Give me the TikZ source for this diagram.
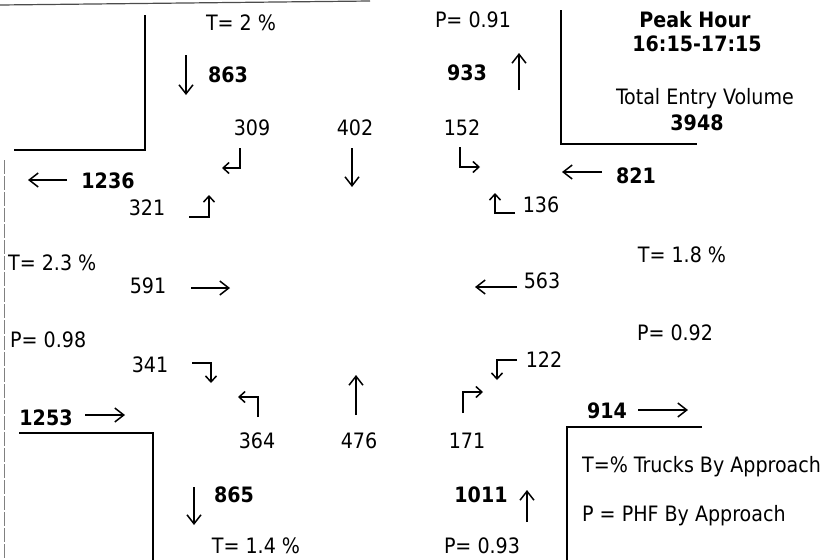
\documentclass[tikz,border=0pt]{standalone}
\usepackage{fontspec}
\IfFontExistsTF{DejaVu Sans Condensed}{\setmainfont{DejaVu Sans Condensed}}{\setmainfont{DejaVu Sans}}
\usetikzlibrary{arrows.meta}

\begin{document}
\begin{tikzpicture}[
  x=1pt, y=-1pt,
  font=\fontsize{21.2}{25}\selectfont,
  txt/.style={inner sep=0pt, anchor=base},
  lft/.style={inner sep=0pt, anchor=base west},
  tot/.style={inner sep=0pt, anchor=base, font=\fontsize{21.2}{25}\selectfont\bfseries},
  arr/.style={-{Straight Barb[length=9pt,width=14pt]}, line width=1.5pt},
  turn/.style={-{Straight Barb[length=6pt,width=11pt]}, line width=1.5pt},
  curb/.style={line width=2.2pt}
]
\useasboundingbox (0,0) rectangle (828,560);

% scan edges
\draw[line width=1.2pt, black!70] (0,5) -- (370,1);
\draw[line width=1pt, black!50, dash pattern=on 14pt off 2pt] (4,160) -- (4,560);

% curb corners
\draw[curb] (145,15) -- (145,150) -- (14,150);
\draw[curb] (561,10) -- (561,144) -- (697,144);
\draw[curb] (19,433) -- (153,433) -- (153,560);
\draw[curb] (702,427) -- (567,427) -- (567,560);

% north
\node[txt] (tn) at (241,30) {T= 2 \%};
\node[tot] (vn) at (228,82) {863};
\node[txt] (pn) at (473,27) {P= 0.91};
\node[tot] (xn) at (467,80) {933};
\node[txt] (n309) at (252,135) {309};
\node[txt] (n402) at (355,135) {402};
\node[txt] (n152) at (462,135) {152};

% title
\node[tot] (ph) at (695,27) {Peak Hour};
\node[tot] (tm) at (697,51) {16:15-17:15};
\node[txt] (te) at (705,104) {Total Entry Volume};
\node[tot] (tv) at (697,130) {3948};

% west
\node[tot] (xw) at (108,188) {1236};
\node[txt] (n321) at (147,215) {321};
\node[lft] (tw) at (8,270) {T= 2.3 \%};
\node[txt] (n591) at (148,293) {591};
\node[lft] (pw) at (10,347) {P= 0.98};
\node[txt] (n341) at (150,372) {341};
\node[tot] (vw) at (46,425) {1253};

% east
\node[tot] (ve) at (636,183) {821};
\node[txt] (n136) at (541,212) {136};
\node[txt] (te2) at (682,262) {T= 1.8 \%};
\node[txt] (n563) at (542,288) {563};
\node[txt] (pe) at (675,340) {P= 0.92};
\node[txt] (n122) at (544,367) {122};
\node[tot] (xe) at (607,418) {914};

% south
\node[txt] (n364) at (257,448) {364};
\node[txt] (n476) at (359,448) {476};
\node[txt] (n171) at (467,448) {171};
\node[tot] (xs) at (234,502) {865};
\node[tot] (vs) at (481,502) {1011};
\node[txt] (ts) at (256,553) {T= 1.4 \%};
\node[txt] (ps) at (482,553) {P= 0.93};

% legend
\node[lft] (lt) at (582,472) {T=\% Trucks By Approach};
\node[lft] (lp) at (582,521) {P = PHF By Approach};

% approach totals
\draw[arr] (186,55) -- (186,95);
\draw[arr] (519,90) -- (519,53);
\draw[arr] (67,180) -- (28,180);
\draw[arr] (602,172) -- (562,172);
\draw[arr] (85,415) -- (125,415);
\draw[arr] (638,410) -- (688,410);
\draw[arr] (194,487) -- (194,525);
\draw[arr] (527,522) -- (527,490);

% through movements
\draw[arr] (191,288) -- (230,288);
\draw[arr] (517,287) -- (475,287);
\draw[arr] (352,148) -- (352,187);
\draw[arr] (356,415) -- (356,375);

% turning movements
\draw[turn] (240,148) |- (222,168);
\draw[turn] (460,147) |- (480,167);
\draw[turn] (189,217) -| (209,195);
\draw[turn] (515,213) -| (495,193);
\draw[turn] (192,363) -| (211,383);
\draw[turn] (517,360) -| (497,380);
\draw[turn] (258,417) |- (238,397);
\draw[turn] (463,413) |- (483,392);
\end{tikzpicture}
\end{document}
